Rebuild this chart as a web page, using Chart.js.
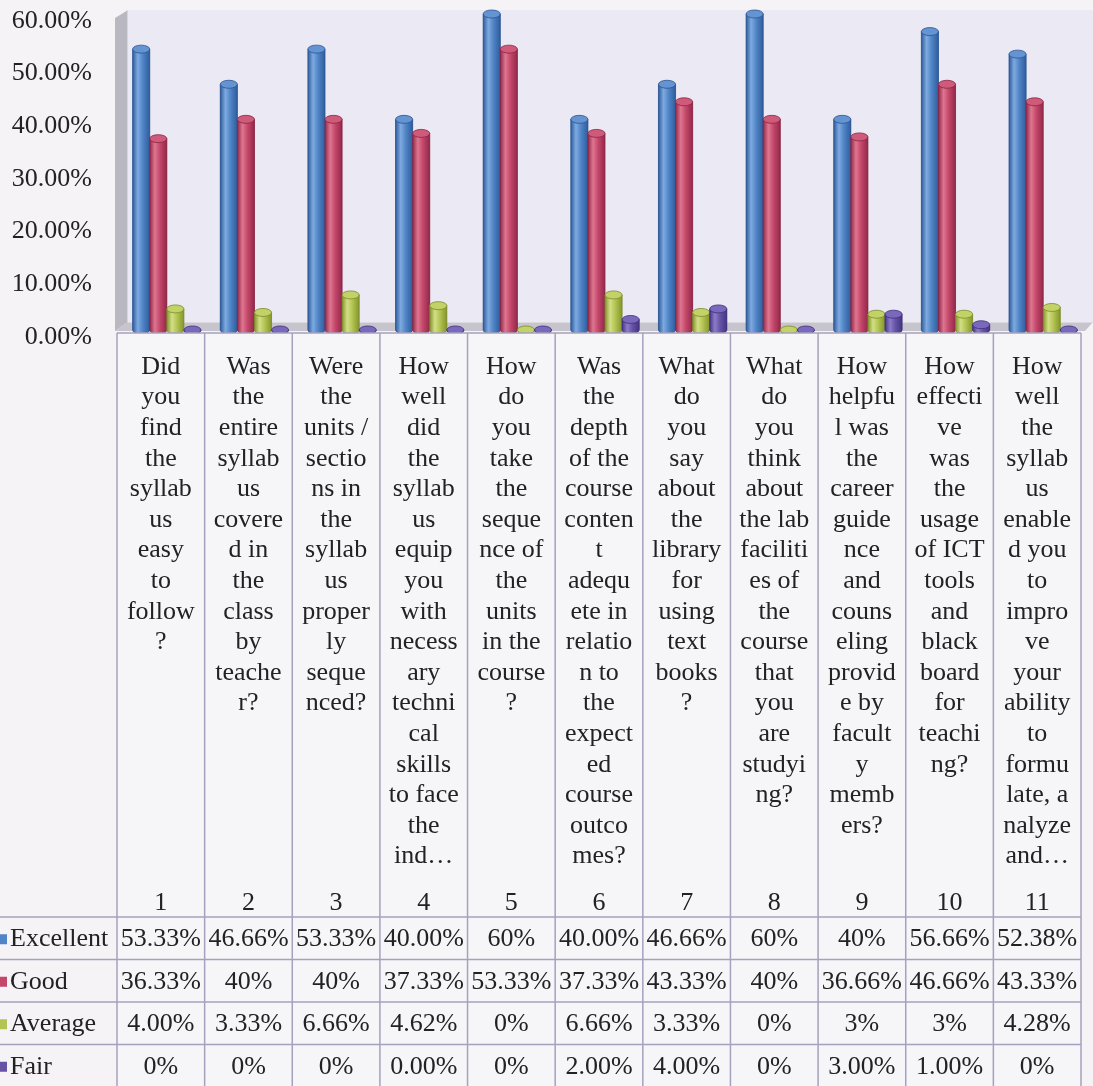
<!DOCTYPE html>
<html>
<head>
<meta charset="utf-8">
<title>Course feedback</title>
<script src="https://cdn.jsdelivr.net/npm/chart.js@4.4.1/dist/chart.umd.min.js"></script>
<style>
  html, body { margin: 0; padding: 0; background: #f5f3f6; }
  canvas { display: block; }
</style>
</head>
<body>
<canvas id="chart" width="1093" height="1086"></canvas>
<script>
// question numbers and the wrapped question text shown in the table header
const questionNumbers = ['1', '2', '3', '4', '5', '6', '7', '8', '9', '10', '11'];
const questions = [
  ['Did', 'you', 'find', 'the', 'syllab', 'us', 'easy', 'to', 'follow', '?'],
  ['Was', 'the', 'entire', 'syllab', 'us', 'covere', 'd in', 'the', 'class', 'by', 'teache', 'r?'],
  ['Were', 'the', 'units /', 'sectio', 'ns in', 'the', 'syllab', 'us', 'proper', 'ly', 'seque', 'nced?'],
  ['How', 'well', 'did', 'the', 'syllab', 'us', 'equip', 'you', 'with', 'necess', 'ary', 'techni', 'cal', 'skills', 'to face', 'the', 'ind\u2026'],
  ['How', 'do', 'you', 'take', 'the', 'seque', 'nce of', 'the', 'units', 'in the', 'course', '?'],
  ['Was', 'the', 'depth', 'of the', 'course', 'conten', 't', 'adequ', 'ete in', 'relatio', 'n to', 'the', 'expect', 'ed', 'course', 'outco', 'mes?'],
  ['What', 'do', 'you', 'say', 'about', 'the', 'library', 'for', 'using', 'text', 'books', '?'],
  ['What', 'do', 'you', 'think', 'about', 'the lab', 'faciliti', 'es of', 'the', 'course', 'that', 'you', 'are', 'studyi', 'ng?'],
  ['How', 'helpfu', 'l was', 'the', 'career', 'guide', 'nce', 'and', 'couns', 'eling', 'provid', 'e by', 'facult', 'y', 'memb', 'ers?'],
  ['How', 'effecti', 've', 'was', 'the', 'usage', 'of ICT', 'tools', 'and', 'black', 'board', 'for', 'teachi', 'ng?'],
  ['How', 'well', 'the', 'syllab', 'us', 'enable', 'd you', 'to', 'impro', 've', 'your', 'ability', 'to', 'formu', 'late, a', 'nalyze', 'and\u2026']
];

const seriesNames = ['Excellent', 'Good', 'Average', 'Fair'];
// values as printed in the table; bar heights are parsed from these
const excellent = ['53.33%', '46.66%', '53.33%', '40.00%', '60%', '40.00%', '46.66%', '60%', '40%', '56.66%', '52.38%'];
const good = ['36.33%', '40%', '40%', '37.33%', '53.33%', '37.33%', '43.33%', '40%', '36.66%', '46.66%', '43.33%'];
const average = ['4.00%', '3.33%', '6.66%', '4.62%', '0%', '6.66%', '3.33%', '0%', '3%', '3%', '4.28%'];
const fair = ['0%', '0%', '0%', '0.00%', '0%', '2.00%', '4.00%', '0%', '3.00%', '1.00%', '0%'];

const seriesText = [excellent, good, average, fair];

const palette = [
  { base: '#4f84c6', light: '#7eaae0', dark: '#2f5d9c', top: '#6494d2', edge: '#2c5490' },
  { base: '#c4476a', light: '#de7690', dark: '#92294a', top: '#cf5a7a', edge: '#8a2444' },
  { base: '#b3c452', light: '#d3df86', dark: '#84952e', top: '#c2d266', edge: '#7a8a2a' },
  { base: '#6653a6', light: '#8e7cc8', dark: '#453584', top: '#7a68bc', edge: '#3e2f7a' }
];

const FONT = '"Liberation Serif", "Times New Roman", serif';
const TEXT = '#222222';
const RULE = '#a6a1bd';

// back wall, floor and page background
const backdrop = {
  id: 'backdrop',
  beforeDraw(chart) {
    const { ctx, chartArea: a, width } = chart;
    ctx.save();
    ctx.fillStyle = '#f5f3f6';
    ctx.fillRect(0, 0, chart.width, chart.height);

    const wallL = a.left - 8, wallR = a.left + 5, top = a.top - 4;
    const floorTop = a.bottom - 8, floorBot = a.bottom + 1;

    ctx.fillStyle = '#ebe9f3';
    ctx.fillRect(wallR, top, width - wallR, floorTop - top);

    // side wall
    ctx.fillStyle = '#b9b8c0';
    ctx.beginPath();
    ctx.moveTo(wallL, top + 8);
    ctx.lineTo(wallR, top);
    ctx.lineTo(wallR, floorTop);
    ctx.lineTo(wallL, floorBot);
    ctx.closePath();
    ctx.fill();
    ctx.strokeStyle = '#d6d5db';
    ctx.lineWidth = 1;
    ctx.beginPath();
    ctx.moveTo(wallR - 0.5, top);
    ctx.lineTo(wallR - 0.5, floorTop);
    ctx.stroke();

    // floor
    ctx.fillStyle = '#c6c4cc';
    ctx.beginPath();
    ctx.moveTo(wallL, floorBot);
    ctx.lineTo(wallR, floorTop);
    ctx.lineTo(width, floorTop);
    ctx.lineTo(width - 8, floorBot);
    ctx.closePath();
    ctx.fill();
    ctx.strokeStyle = '#dcdadf';
    ctx.beginPath();
    ctx.moveTo(wallR, floorTop + 0.5);
    ctx.lineTo(width, floorTop + 0.5);
    ctx.stroke();
    ctx.restore();
  }
};

// shade each bar as a cylinder with elliptical ends
const cylinders = {
  id: 'cylinders',
  afterDatasetsDraw(chart) {
    const ctx = chart.ctx;
    const ry = 4;
    ctx.save();
    chart.data.datasets.forEach((ds, di) => {
      const pal = palette[di];
      chart.getDatasetMeta(di).data.forEach(bar => {
        const { x, y, base, width } = bar.getProps(['x', 'y', 'base', 'width'], true);
        const rx = width / 2, l = x - rx, r = x + rx;
        const g = ctx.createLinearGradient(l, 0, r, 0);
        g.addColorStop(0, pal.dark);
        g.addColorStop(0.3, pal.light);
        g.addColorStop(0.6, pal.base);
        g.addColorStop(1, pal.dark);
        ctx.beginPath();
        ctx.moveTo(l, y);
        ctx.lineTo(l, base);
        ctx.ellipse(x, base, rx, ry, 0, Math.PI, 0, true);
        ctx.lineTo(r, y);
        ctx.closePath();
        ctx.fillStyle = g;
        ctx.fill();
        ctx.strokeStyle = pal.edge;
        ctx.lineWidth = 0.8;
        ctx.stroke();

        ctx.beginPath();
        ctx.ellipse(x, y, rx, ry, 0, 0, Math.PI * 2);
        ctx.fillStyle = pal.top;
        ctx.fill();
        ctx.stroke();
      });
    });
    ctx.restore();
  }
};

// data table under the plot: question text, numbers, and one row per series
const dataTable = {
  id: 'dataTable',
  afterDraw(chart) {
    const { ctx, chartArea: a, scales: { x } } = chart;
    const catW = x.getPixelForValue(1) - x.getPixelForValue(0);
    const shift = -6;
    const colL = i => x.getPixelForValue(i) - catW / 2 + shift;
    const colC = i => x.getPixelForValue(i) + shift;
    const tableL = colL(0), tableR = colL(questions.length);
    const headTop = a.bottom + 3, headBot = 917, rowH = 42.5;
    const bottom = chart.height;

    ctx.save();
    ctx.fillStyle = '#f6f5f8';
    ctx.fillRect(tableL, headTop, tableR - tableL, bottom - headTop);

    ctx.strokeStyle = RULE;
    ctx.lineWidth = 1.5;
    ctx.beginPath();
    ctx.moveTo(tableL, headTop);
    ctx.lineTo(tableR, headTop);
    for (let r = 0; r < seriesNames.length; r++) {
      const yy = headBot + r * rowH;
      ctx.moveTo(0, yy);
      ctx.lineTo(tableR, yy);
    }
    for (let i = 0; i <= questions.length; i++) {
      ctx.moveTo(colL(i), headTop);
      ctx.lineTo(colL(i), bottom);
    }
    ctx.stroke();

    ctx.fillStyle = TEXT;
    ctx.font = '26px ' + FONT;
    ctx.textAlign = 'center';
    ctx.textBaseline = 'middle';
    questions.forEach((lines, i) => {
      lines.forEach((t, k) => ctx.fillText(t, colC(i), headTop + 34 + k * 30.6));
      ctx.fillText(questionNumbers[i], colC(i), headBot - 14);
    });

    seriesNames.forEach((name, r) => {
      const cy = headBot + r * rowH + rowH / 2 + 1;
      ctx.fillStyle = palette[r].base;
      ctx.fillRect(0, cy - 5, 7, 10);
      ctx.fillStyle = TEXT;
      ctx.textAlign = 'left';
      ctx.fillText(name, 10, cy);
      ctx.textAlign = 'center';
      seriesText[r].forEach((t, i) => ctx.fillText(t, colC(i), cy));
    });
    ctx.restore();
  }
};

new Chart(document.getElementById('chart'), {
  type: 'bar',
  data: {
    labels: questions,
    datasets: seriesNames.map((name, i) => ({
      label: name,
      data: seriesText[i].map(t => parseFloat(t)),
      backgroundColor: palette[i].base,
      borderWidth: 0,
      barPercentage: 1,
      categoryPercentage: 0.78
    }))
  },
  options: {
    responsive: false,
    animation: false,
    layout: { padding: { top: 14, right: 6, bottom: 756, left: 0 } },
    plugins: { legend: { display: false }, tooltip: { enabled: false } },
    scales: {
      x: { display: false },
      y: {
        min: 0,
        max: 60,
        ticks: {
          stepSize: 10,
          padding: 31,
          labelOffset: 7,
          color: TEXT,
          font: { family: FONT, size: 26, lineHeight: 1 },
          callback: v => v.toFixed(2) + '%'
        },
        grid: { display: false, drawTicks: false },
        border: { display: false },
        afterFit(scale) {
          scale.width = 123;
          scale.paddingTop = 0;
          scale.paddingBottom = 0;
        }
      }
    }
  },
  plugins: [backdrop, cylinders, dataTable]
});
</script>
</body>
</html>
